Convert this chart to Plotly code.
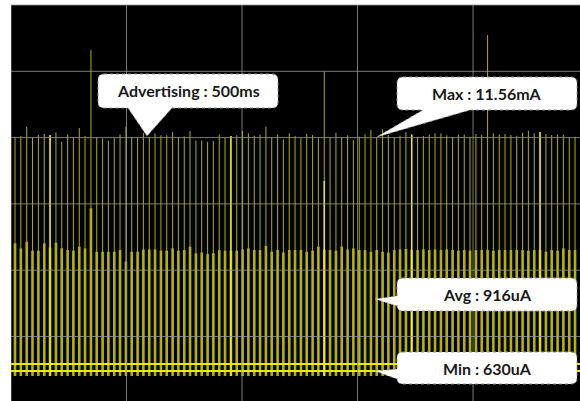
import plotly.graph_objects as go

# ---- captured trace: one advertising event per ~505 ms ----
spike_t_s = [
    0.35, 0.85, 1.36, 1.86, 2.37, 2.88, 3.38, 3.89, 4.39, 4.90,
    5.40, 5.91, 6.41, 6.92, 7.42, 7.93, 8.43, 8.94, 9.44, 9.95,
    10.45, 10.96, 11.46, 11.97, 12.47, 12.98, 13.48, 13.99, 14.49, 15.00,
    15.50, 16.01, 16.51, 17.02, 17.52, 18.03, 18.53, 19.04, 19.54, 20.05,
    20.55, 21.06, 21.56, 22.07, 22.57, 23.08, 23.58, 24.09, 24.59, 25.10,
    25.60, 26.11, 26.61, 27.12, 27.62, 28.13, 28.63, 29.14, 29.64, 30.15,
    30.65, 31.16, 31.66, 32.17, 32.67, 33.18, 33.68, 34.19, 34.69, 35.20,
    35.70, 36.21, 36.71, 37.22, 37.72, 38.23, 38.73, 39.24, 39.74, 40.25,
    40.75, 41.26, 41.76, 42.27, 42.77, 43.28, 43.78, 44.29, 44.79, 45.30,
    45.80, 46.31, 46.81, 47.32, 47.82, 48.33, 48.83,
]

# TX peak current of each event (mA)
peak_mA = [
    11.57, 11.61, 12.04, 11.54, 11.65, 11.70, 11.65, 11.78, 11.34, 11.68,
    11.54, 11.98, 11.61, 15.62, 11.53, 11.50, 11.39, 11.50, 11.68, 12.04,
    11.54, 11.53, 11.76, 11.57, 11.73, 11.64, 11.64, 11.79, 11.54, 11.59,
    11.84, 11.39, 11.40, 11.34, 11.37, 11.68, 11.53, 11.61, 11.64, 11.84,
    11.73, 11.62, 11.67, 12.04, 11.53, 11.68, 11.45, 11.73, 11.61, 11.51,
    11.70, 11.65, 11.50, 14.61, 11.54, 11.76, 11.53, 11.64, 11.42, 11.57,
    11.68, 11.89, 11.56, 11.92, 11.65, 11.53, 11.62, 11.78, 11.68, 11.57,
    11.61, 11.67, 11.73, 11.73, 11.64, 11.54, 11.67, 11.67, 11.57, 11.70,
    11.67, 16.32, 11.73, 11.67, 11.70, 11.65, 11.62, 11.76, 11.86, 11.73,
    11.79, 11.70, 11.65, 11.68, 11.67, 11.54, 11.57,
]

# radio-on shoulder level of each event (mA)
shoulder_mA = [
    6.59, 6.36, 6.67, 6.25, 6.25, 6.59, 6.40, 6.62, 6.36, 6.28,
    6.25, 6.44, 6.36, 8.23, 6.20, 6.20, 6.20, 6.20, 6.28, 5.74,
    6.20, 6.20, 6.31, 6.31, 6.31, 6.25, 6.25, 6.36, 6.25, 6.28,
    6.44, 6.13, 6.16, 6.09, 6.13, 6.28, 6.25, 6.25, 6.25, 6.31,
    6.36, 6.28, 6.28, 6.47, 6.20, 6.28, 6.17, 6.28, 6.28, 6.28,
    6.20, 6.25, 6.44, 6.30, 6.28, 6.25, 6.44, 6.31, 6.36, 6.28,
    6.28, 6.20, 6.28, 6.20, 6.16, 6.28, 6.31, 6.33, 6.28, 6.28,
    6.31, 6.28, 6.31, 6.28, 6.31, 6.28, 6.25, 6.28, 6.25, 6.28,
    6.28, 6.28, 6.25, 6.28, 6.28, 6.28, 6.28, 6.28, 6.25, 6.28,
    6.28, 6.20, 6.28, 6.25, 6.36, 6.28, 6.28,
]

# events captured more than once (drawn brighter), with the top of the bright part (mA)
bright_events = [6, 37, 53, 68, 90]
bright_top_mA = [11.65, 11.61, 9.50, 11.68, 11.79]

sleep_low_mA = 0.63     # Min
sleep_high_mA = 0.96    # upper edge of the sleep noise band
trough_mA = 0.40        # undershoot at each event
max_mA = 11.56
avg_uA = 916
adv_interval_ms = 500
max_event = 62          # event the Max callout refers to

# ---- canvas / scope screen geometry ----
W, H = 580, 401
ML, MT = 11, 5
PW, PH = W - ML, H - MT
X0, X1 = 0.0, 49.26          # 10 s / div
Y0, Y1 = -0.77, 17.725       # mA

def data_px(x, y):
    return ML + (x - X0) / (X1 - X0) * PW, MT + (Y1 - y) / (Y1 - Y0) * PH

def paper(px, py):
    return (px - ML) / PW, (H - py) / PH

def path_from_px(cmds):
    out = []
    for c in cmds:
        s = c[0]
        for (px, py) in c[1:]:
            u, v = paper(px, py)
            s += f" {u:.5f},{v:.5f}"
        out.append(s)
    return " ".join(out) + " Z"

def callout(x0, y0, x1, y1, side, a, b, tip, r=6):
    """Rounded box with a wedge pointer; side='bottom' or 'left'."""
    c = [("M", (x0 + r, y0)), ("L", (x1 - r, y0)), ("Q", (x1, y0), (x1, y0 + r)),
         ("L", (x1, y1 - r)), ("Q", (x1, y1), (x1 - r, y1))]
    if side == "bottom":
        c += [("L", (b, y1)), ("L", tip), ("L", (a, y1))]
    c += [("L", (x0 + r, y1)), ("Q", (x0, y1), (x0, y1 - r))]
    if side == "left":
        c += [("L", (x0, b)), ("L", tip), ("L", (x0, a))]
    c += [("L", (x0, y0 + r)), ("Q", (x0, y0), (x0 + r, y0))]
    return dict(type="path", xref="paper", yref="paper", layer="above",
                path=path_from_px(c), fillcolor="white",
                line=dict(color="rgb(150,150,150)", width=1, dash="dot"))

fig = go.Figure()

def segs(idx, lo, hi):
    xs, ys = [], []
    for i in idx:
        xs += [spike_t_s[i], spike_t_s[i], None]
        ys += [lo, hi[i], None]
    return xs, ys

all_idx = list(range(len(spike_t_s)))

# thin TX spikes
xs, ys = segs(all_idx, trough_mA, peak_mA)
fig.add_trace(go.Scatter(x=xs, y=ys, mode="lines", hoverinfo="skip",
                         line=dict(color="rgb(175,175,0)", width=1)))
# wider radio-on shoulders
xs, ys = segs(all_idx, trough_mA, shoulder_mA)
fig.add_trace(go.Scatter(x=xs, y=ys, mode="lines", hoverinfo="skip",
                         line=dict(color="rgb(180,180,0)", width=2.6)))
# brighter overlapping captures
bx, by = [], []
for i, top in zip(bright_events, bright_top_mA):
    bx += [spike_t_s[i], spike_t_s[i], None]
    by += [trough_mA, top, None]
fig.add_trace(go.Scatter(x=bx, y=by, mode="lines", hoverinfo="skip",
                         line=dict(color="rgb(245,245,0)", width=1.4)))
# sleep-current floor band
for lvl in (sleep_high_mA, sleep_low_mA):
    fig.add_trace(go.Scatter(x=[X0, X1], y=[lvl, lvl], mode="lines", hoverinfo="skip",
                             line=dict(color="rgb(235,235,0)", width=2)))

shapes = []
# graticule (10 s/div horizontally)
grid_col = "rgba(150,150,150,0.8)"
for k in range(5):
    shapes.append(dict(type="line", xref="x", yref="paper", x0=k * 10, x1=k * 10,
                       y0=0, y1=1, layer="above", line=dict(color=grid_col, width=1)))
div_px = 66.3
for k in range(6):
    yy = 1 - k * div_px / PH
    shapes.append(dict(type="line", xref="paper", yref="paper", x0=0, x1=1,
                       y0=yy, y1=yy, layer="above", line=dict(color=grid_col, width=1)))

# callouts
max_tip = data_px(spike_t_s[max_event], max_mA)
min_tip = data_px(31.52, sleep_low_mA)
shapes.append(callout(98, 74, 278, 108, "bottom", 128, 172, (147, 136)))
shapes.append(callout(397, 77, 577, 110, "bottom", 423, 470, max_tip))
shapes.append(callout(397, 278, 577, 311, "left", 296, 306, (375, 299)))
shapes.append(callout(397, 352, 577, 384, "left", 369, 379, min_tip))

labels = [
    (f"Advertising : {adv_interval_ms}ms", 188, 91),
    (f"Max : {max_mA:.2f}mA", 487, 93.5),
    (f"Avg : {avg_uA}uA", 487, 294.5),
    (f"Min : {round(sleep_low_mA * 1000)}uA", 487, 368),
]
annotations = []
for text, px, py in labels:
    u, v = paper(px, py)
    annotations.append(dict(text=f"<b>{text}</b>", xref="paper", yref="paper",
                            x=u, y=v, xanchor="center", yanchor="middle",
                            showarrow=False,
                            font=dict(family="Lato", size=16, color="#1a1a1a")))

fig.update_layout(
    width=W, height=H,
    margin=dict(l=ML, r=0, t=MT, b=0, pad=0),
    paper_bgcolor="white", plot_bgcolor="black",
    showlegend=False,
    xaxis=dict(range=[X0, X1], showgrid=False, zeroline=False, showticklabels=False,
               ticks="", fixedrange=True),
    yaxis=dict(range=[Y0, Y1], showgrid=False, zeroline=False, showticklabels=False,
               ticks="", fixedrange=True),
    shapes=shapes, annotations=annotations,
)

fig.write_html("out.html", config={"displayModeBar": False})
